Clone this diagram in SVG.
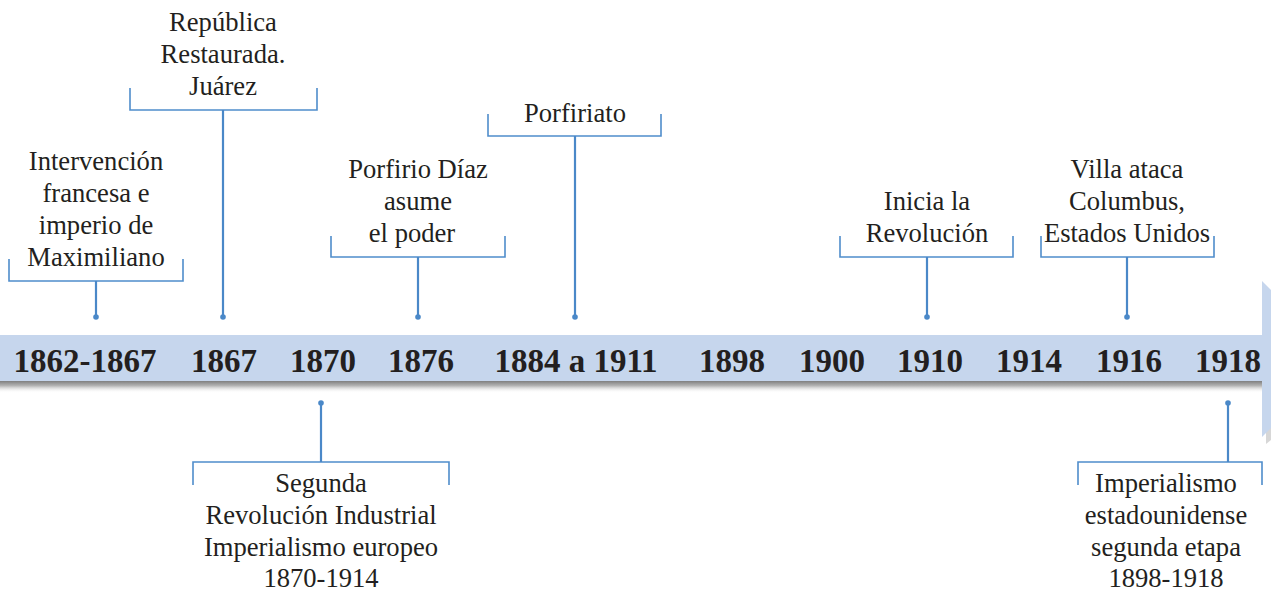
<svg xmlns="http://www.w3.org/2000/svg" width="1271" height="592" viewBox="0 0 1271 592">
<style>
.lbl{font-family:"Liberation Serif","DejaVu Serif",serif;font-size:26.6px;fill:#231f20;text-anchor:middle}
.yr{font-family:"Liberation Serif","DejaVu Serif",serif;font-size:33px;font-weight:bold;fill:#231f20;text-anchor:middle}
.br{fill:none;stroke:#4f8dcb;stroke-width:1.6}
.st{fill:none;stroke:#4a88c8;stroke-width:2.2}
.dot{fill:#4a88c8}
</style>
<defs>
<linearGradient id="sh" x1="0" y1="0" x2="0" y2="1">
<stop offset="0" stop-color="#7f7f7f"/>
<stop offset="0.4" stop-color="#b5b5b5"/>
<stop offset="1" stop-color="#ffffff" stop-opacity="0"/>
</linearGradient>
</defs>
<g id="band">
<rect x="0" y="381" width="1266" height="12" fill="url(#sh)"/>
<rect x="0" y="335" width="1262" height="46" fill="#c6d6ed"/>
<polygon points="1266,286 1271,291 1271,440 1266,444" fill="#bdbdbd" opacity="0.6"/>
<polygon points="1262,281 1271,290 1271,428 1262,437" fill="#c6d6ed"/>
<text class="yr" x="85" y="372">1862-1867</text>
<text class="yr" x="224" y="372">1867</text>
<text class="yr" x="323" y="372">1870</text>
<text class="yr" x="421" y="372">1876</text>
<text class="yr" x="576" y="372">1884 a 1911</text>
<text class="yr" x="732" y="372">1898</text>
<text class="yr" x="832" y="372">1900</text>
<text class="yr" x="930" y="372">1910</text>
<text class="yr" x="1029" y="372">1914</text>
<text class="yr" x="1129" y="372">1916</text>
<text class="yr" x="1228" y="372">1918</text>
</g>
<g id="connectors">
<path class="br" d="M9,259V281H183V259"/>
<path class="st" d="M96,281V317"/><circle class="dot" cx="96" cy="317" r="2.8"/>
<path class="br" d="M130,88V110H317V88"/>
<path class="st" d="M223,110V317"/><circle class="dot" cx="223" cy="317" r="2.8"/>
<path class="br" d="M331,236V257H505V236"/>
<path class="st" d="M418,257V317"/><circle class="dot" cx="418" cy="317" r="2.8"/>
<path class="br" d="M488,114V136H661V114"/>
<path class="st" d="M575,136V317"/><circle class="dot" cx="575" cy="317" r="2.8"/>
<path class="br" d="M840,236V257H1013V236"/>
<path class="st" d="M927,257V317"/><circle class="dot" cx="927" cy="317" r="2.8"/>
<path class="br" d="M1041,236V257H1214V236"/>
<path class="st" d="M1127,257V317"/><circle class="dot" cx="1127" cy="317" r="2.8"/>
<path class="br" d="M193,485V462H449V485"/>
<path class="st" d="M321,462V403"/><circle class="dot" cx="321" cy="403" r="2.8"/>
<path class="br" d="M1078,485V462H1262V485"/>
<path class="st" d="M1228,462V403"/><circle class="dot" cx="1228" cy="403" r="2.8"/>
</g>
<g id="n1"><text class="lbl" x="96" y="170">Intervención</text><text class="lbl" x="96" y="202">francesa e</text><text class="lbl" x="96" y="234">imperio de</text><text class="lbl" x="96" y="266">Maximiliano</text></g>
<g id="n2"><text class="lbl" x="223" y="31">República</text><text class="lbl" x="223" y="63">Restaurada.</text><text class="lbl" x="223" y="95">Juárez</text></g>
<g id="n3"><text class="lbl" x="418" y="178">Porfirio Díaz</text><text class="lbl" x="418" y="210">asume</text><text class="lbl" x="412" y="242">el poder</text></g>
<g id="n4"><text class="lbl" x="575" y="122">Porfiriato</text></g>
<g id="n5"><text class="lbl" x="927" y="210">Inicia la</text><text class="lbl" x="927" y="242">Revolución</text></g>
<g id="n6"><text class="lbl" x="1127" y="178">Villa ataca</text><text class="lbl" x="1127" y="210">Columbus,</text><text class="lbl" x="1127" y="242">Estados Unidos</text></g>
<g id="n7"><text class="lbl" x="321" y="492">Segunda</text><text class="lbl" x="321" y="524">Revolución Industrial</text><text class="lbl" x="321" y="556">Imperialismo europeo</text><text class="lbl" x="321" y="587">1870-1914</text></g>
<g id="n8"><text class="lbl" x="1166" y="492">Imperialismo</text><text class="lbl" x="1166" y="524">estadounidense</text><text class="lbl" x="1166" y="556">segunda etapa</text><text class="lbl" x="1166" y="587">1898-1918</text></g>
</svg>
